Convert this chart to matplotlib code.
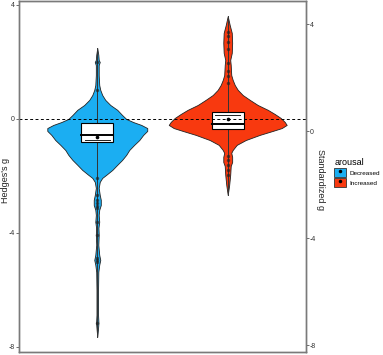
import matplotlib
matplotlib.use("Agg")
import matplotlib.pyplot as plt
from matplotlib.patches import Patch
from matplotlib.lines import Line2D
from matplotlib.legend_handler import HandlerTuple

plt.rcParams['font.family'] = ['Liberation Sans', 'DejaVu Sans']

# ---- data ----
categories = ["Decreased", "Increased"]
colors = ["#1BAEF2", "#F8390F"]

# violin outlines: y value and half width (x data units)
dec_y = [2.49, 2.25, 2.07, 2.0, 1.89, 1.54, 1.19, 1.02, 0.84, 0.67, 0.49, 0.32, 0.14, 0.0,
         -0.11, -0.21, -0.32, -0.42, -0.56, -0.74, -0.91, -1.09, -1.26, -1.44, -1.61, -1.79,
         -1.96, -2.07, -2.21, -2.42, -2.67, -2.84, -3.02, -3.19, -3.37, -3.61, -3.82, -4.07,
         -4.42, -4.77, -4.95, -5.12, -5.37, -6.0, -6.88, -7.16, -7.4, -7.65]
dec_w = [0.0, 0.008, 0.011, 0.019, 0.011, 0.011, 0.015, 0.023, 0.038, 0.061, 0.10, 0.153, 0.19, 0.222,
         0.276, 0.337, 0.383, 0.383, 0.352, 0.322, 0.283, 0.245, 0.222, 0.19, 0.153, 0.115,
         0.069, 0.038, 0.019, 0.011, 0.019, 0.027, 0.027, 0.015, 0.011, 0.015, 0.009, 0.011,
         0.008, 0.015, 0.023, 0.015, 0.008, 0.006, 0.006, 0.009, 0.005, 0.0]

inc_y = [3.61, 3.30, 3.02, 2.67, 2.32, 2.07, 1.89, 1.54, 1.37, 1.19, 1.02, 0.84, 0.67, 0.49, 0.32,
         0.175, 0.035, -0.105, -0.21, -0.32, -0.42, -0.56, -0.74, -0.91, -1.09, -1.19, -1.33,
         -1.51, -1.65, -1.96, -2.32, -2.67]
inc_w = [0.0, 0.015, 0.031, 0.034, 0.031, 0.019, 0.023, 0.027, 0.038, 0.054, 0.077, 0.115, 0.169,
         0.23, 0.307, 0.36, 0.406, 0.437, 0.452, 0.414, 0.345, 0.245, 0.138, 0.069, 0.038, 0.027,
         0.034, 0.034, 0.023, 0.019, 0.011, 0.0]

# box statistics: q1, q3, median, second estimate, mean
box_q1 = [-0.82, -0.36]
box_q3 = [-0.15, 0.235]
box_med = [-0.55, -0.175]
box_alt = [-0.75, 0.13]
box_mean = [-0.62, -0.01]

# individual extreme points
dec_pts = [2.0, 1.02, -2.07, -2.67, -2.85, -2.95, -3.05, -3.12, -3.6, -4.07, -4.88, -4.95, -5.02, -7.16]
inc_pts = [3.05, 2.9, 2.7, 2.45, 1.95, 1.7, 1.5, 1.25, -1.3, -1.45, -1.6, -1.8, -1.95]

left_ticks = [4, 0, -4, -8]
right_ticks = [4, 0, -4, -8]

# ---- figure ----
W, H = 383, 355
fig = plt.figure(figsize=(W / 100, H / 100), dpi=100)
ax = fig.add_axes([19 / W, 3 / H, (306 - 19) / W, (352 - 1) / H])
ax.set_xlim(0.4, 2.6)
ax.set_ylim(-8.18, 4.14)

outlines = [(dec_y, dec_w), (inc_y, inc_w)]
points = [dec_pts, inc_pts]
for i, (yy, ww) in enumerate(outlines):
    xc = i + 1
    ax.fill_betweenx(yy, [xc - w for w in ww], [xc + w for w in ww],
                     facecolor=colors[i], edgecolor='#222222', linewidth=0.6, zorder=2)
    ax.plot([xc, xc], [min(yy), max(yy)], color='#333333', lw=0.7, zorder=3)
    ax.scatter([xc] * len(points[i]), points[i], s=6, color='#222222', alpha=0.7,
               linewidths=0, zorder=4)
    ax.bar(xc, box_q3[i] - box_q1[i], bottom=box_q1[i], width=0.245, color='white',
           edgecolor='black', linewidth=0.8, zorder=5)
    ax.plot([xc - 0.1225, xc + 0.1225], [box_med[i]] * 2, color='black', lw=1.4, zorder=6)
    ax.plot([xc - 0.095, xc + 0.095], [box_alt[i]] * 2, color='#222222', lw=0.7, zorder=6)
    ax.scatter([xc], [box_mean[i]], s=7, color='black', zorder=7, linewidths=0)

ax.axhline(0, color='black', lw=0.7, ls=(0, (3, 2.5)), zorder=8)

ax.set_xticks([])
ax.set_yticks(left_ticks)
ax.set_yticklabels([str(t) for t in left_ticks], fontsize=5, color='#333333')
ax.tick_params(axis='y', length=2, width=0.6, color='#555555', pad=1)
for sp in ax.spines.values():
    sp.set_color('#7a7a7a')
    sp.set_linewidth(1.0)
fig.text(5.5 / W, 1 - 180 / H, "Hedges's g", rotation=90, ha='center', va='center',
         fontsize=6.5, color='#222222')

ax2 = ax.twinx()
ax2.set_ylim(-8.26, 4.86)
ax2.set_yticks(right_ticks)
ax2.set_yticklabels([str(t) for t in right_ticks], fontsize=5, color='#333333')
ax2.tick_params(axis='y', length=2, width=0.6, color='#555555', pad=1)
for sp in ax2.spines.values():
    sp.set_color('#7a7a7a')
    sp.set_linewidth(1.0)
fig.text(320 / W, 1 - 180 / H, "Standardized g", rotation=270, ha='center', va='center',
         fontsize=6.5, color='#222222')

handles = [(Patch(facecolor=colors[i], edgecolor='#333333', linewidth=0.6),
            Line2D([], [], marker='o', ms=1.5, color='black', ls=''))
           for i in range(2)]
leg = fig.legend(handles, categories, title='arousal', loc='upper left',
                 bbox_to_anchor=(333 / W, 1 - 157 / H), frameon=False, fontsize=4.6,
                 title_fontsize=6.5, handlelength=1.9, handleheight=1.9, labelspacing=0.1,
                 handletextpad=0.45, borderaxespad=0, borderpad=0.2,
                 handler_map={tuple: HandlerTuple(ndivide=1, pad=0)})
leg._legend_box.align = 'left'

fig.savefig('out.png', dpi=100)
